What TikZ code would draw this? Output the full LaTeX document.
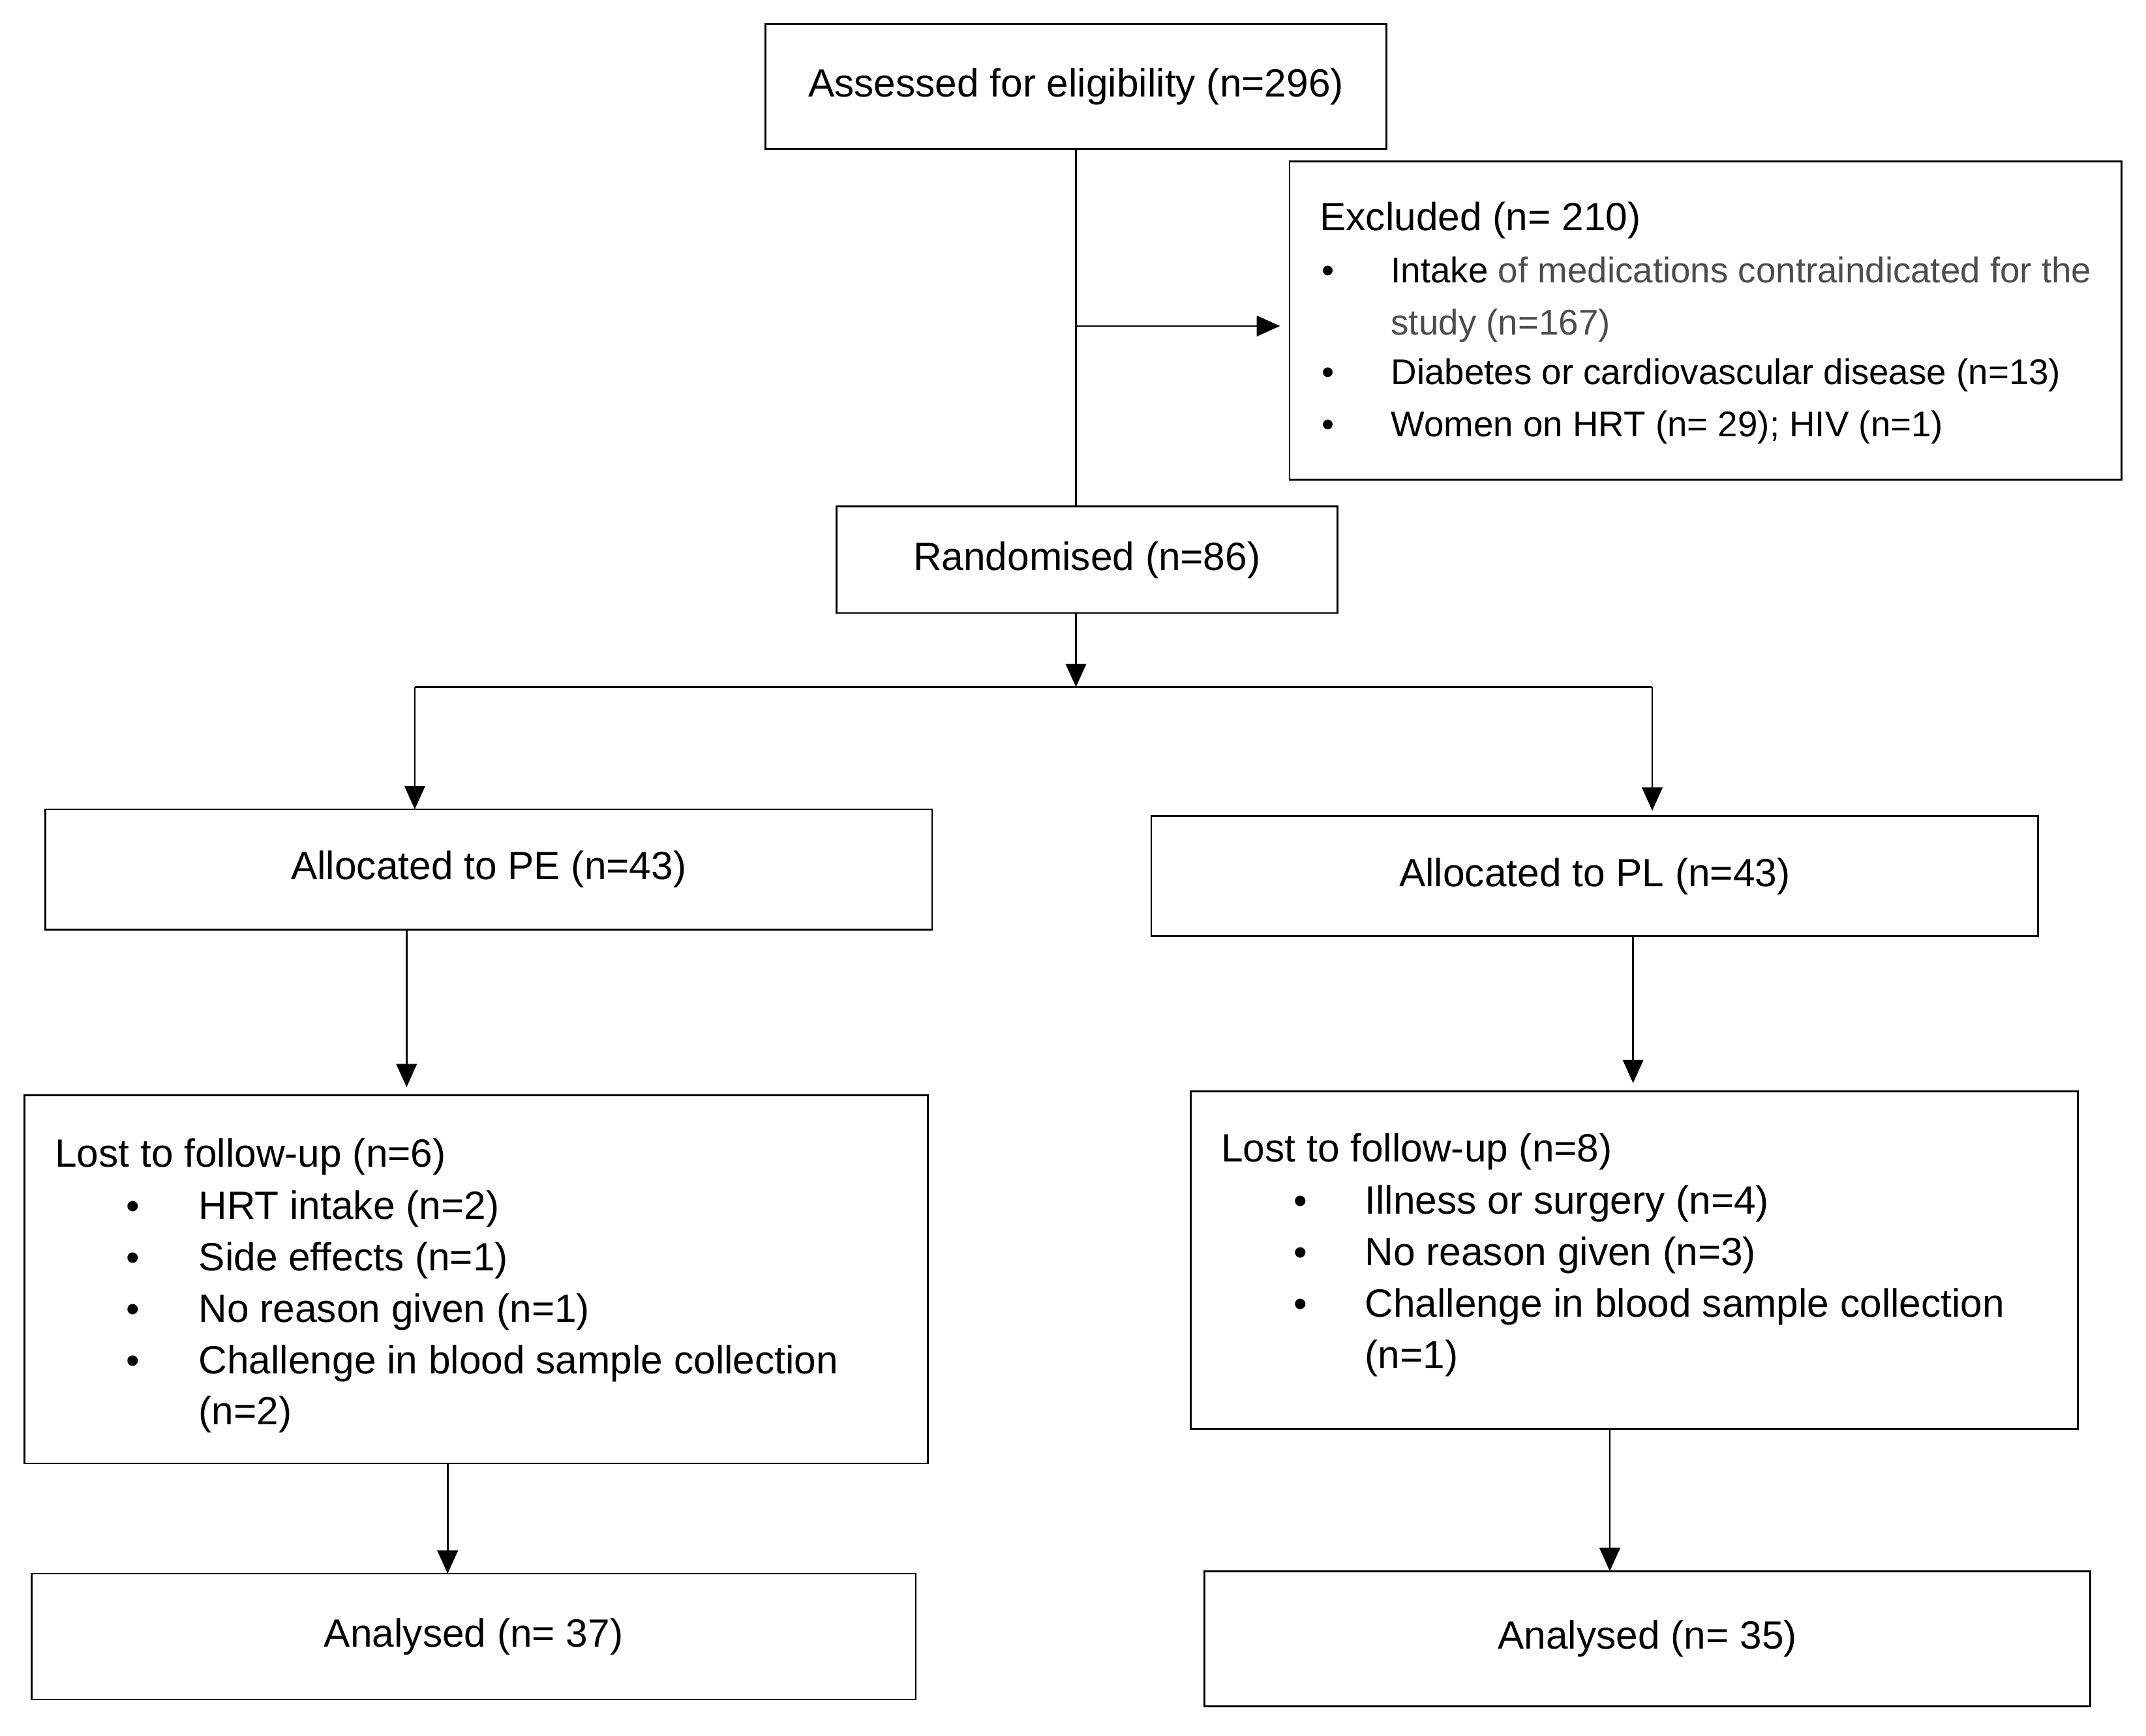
\documentclass[tikz,border=0pt]{standalone}
\usepackage{fontspec}
\setmainfont{Liberation Sans}
\usetikzlibrary{arrows.meta}
\begin{document}
\begin{tikzpicture}[x=0.997pt,y=-1pt,
  box/.style={draw, line width=1.3pt, rectangle, inner sep=0pt, outer sep=0pt, font=\fontsize{28.7}{34}\selectfont},
  ln/.style={line width=1.2pt},
  arr/.style={line width=1.2pt, -{Triangle[length=17pt,width=15pt]}},
  txt/.style={anchor=base west, inner sep=0pt, font=\fontsize{28.7}{34}\selectfont},
  stxt/.style={anchor=base west, inner sep=0pt, font=\fontsize{26}{30}\selectfont},
  bul/.style={anchor=base, inner sep=0pt, font=\fontsize{28}{30}\selectfont},
  sbul/.style={anchor=base, inner sep=0pt, font=\fontsize{26}{30}\selectfont}]
\useasboundingbox (0pt,0pt) rectangle (1563pt,-1264.6pt);
\fill[white] (0pt,0pt) rectangle (1563pt,-1264.6pt);

% boxes
\node[box, minimum width=452pt, minimum height=91pt] (assess) at (786,63) {Assessed for eligibility (n=296)};
\node[box, minimum width=606pt, minimum height=232pt] (excl) at (1246,233.5) {};
\node[box, minimum width=365pt, minimum height=77.6pt] (rand) at (794,407.8) {Randomised (n=86)};
\node[box, minimum width=646pt, minimum height=87.5pt] (pe) at (357,633.3) {Allocated to PE (n=43)};
\node[box, minimum width=646pt, minimum height=87.5pt] (pl) at (1165,638.3) {Allocated to PL (n=43)};
\node[box, minimum width=658pt, minimum height=268pt] (lostL) at (348,932) {};
\node[box, minimum width=646pt, minimum height=246pt] (lostR) at (1194,918) {};
\node[box, minimum width=644pt, minimum height=91.6pt] (anaL) at (346,1192.2) {Analysed (n= 37)};
\node[box, minimum width=645pt, minimum height=98.3pt] (anaR) at (1203.5,1193.7) {Analysed (n= 35)};

% excluded text
\node[txt] (exT) at (964,168) {Excluded (n= 210)};
\node[sbul] (exb1) at (970,206) {•};
\node[sbul] (exb2) at (970,280) {•};
\node[sbul] (exb3) at (970,318) {•};
\node[stxt] (ex1) at (1016,206) {Intake {\color{black!70}of medications contraindicated for the}};
\node[stxt, text=black!70] (ex1b) at (1016,244) {study (n=167)};
\node[stxt] (ex2) at (1016,280) {Diabetes or cardiovascular disease (n=13)};
\node[stxt] (ex3) at (1016,318) {Women on HRT (n= 29); HIV (n=1)};

% lost left text
\node[txt] (lLT) at (40,850) {Lost to follow-up (n=6)};
\node[bul] (lb1) at (97,888) {•};
\node[bul] (lb2) at (97,925.5) {•};
\node[bul] (lb3) at (97,963) {•};
\node[bul] (lb4) at (97,1000.5) {•};
\node[txt] (l1) at (145,888) {HRT intake (n=2)};
\node[txt] (l2) at (145,925.5) {Side effects (n=1)};
\node[txt] (l3) at (145,963) {No reason given (n=1)};
\node[txt] (l4) at (145,1000.5) {Challenge in blood sample collection};
\node[txt] (l4b) at (145,1038) {(n=2)};

% lost right text
\node[txt] (rLT) at (892,846.5) {Lost to follow-up (n=8)};
\node[bul] (rb1) at (950,884.5) {•};
\node[bul] (rb2) at (950,922) {•};
\node[bul] (rb3) at (950,959.5) {•};
\node[txt] (r1) at (997,884.5) {Illness or surgery (n=4)};
\node[txt] (r2) at (997,922) {No reason given (n=3)};
\node[txt] (r3) at (997,959.5) {Challenge in blood sample collection};
\node[txt] (r3b) at (997,997) {(n=1)};

% connectors
\coordinate (c1) at (786,0);
\coordinate (j1) at (786,237.5);
\coordinate (split) at (786,500.5);
\coordinate (sl) at (303,500.5);
\coordinate (sr) at (1207,500.5);
\coordinate (c2) at (297,0);
\coordinate (c3) at (1193,0);
\coordinate (c4) at (327,0);
\coordinate (c5) at (1176,0);

\draw[ln] (c1 |- assess.south) -- (c1 |- rand.north);
\draw[arr, shorten >=7pt] (j1) -- (j1 -| excl.west);
\draw[arr] (c1 |- rand.south) -- (split);
\draw[ln] (sl) -- (sr);
\draw[arr] (sl) -- (sl |- pe.north);
\draw[arr, shorten >=4pt] (sr) -- (sr |- pl.north);
\draw[arr, shorten >=6pt] (c2 |- pe.south) -- (c2 |- lostL.north);
\draw[arr, shorten >=6pt] (c3 |- pl.south) -- (c3 |- lostR.north);
\draw[arr] (c4 |- lostL.south) -- (c4 |- anaL.north);
\draw[arr] (c5 |- lostR.south) -- (c5 |- anaR.north);
\end{tikzpicture}
\end{document}
